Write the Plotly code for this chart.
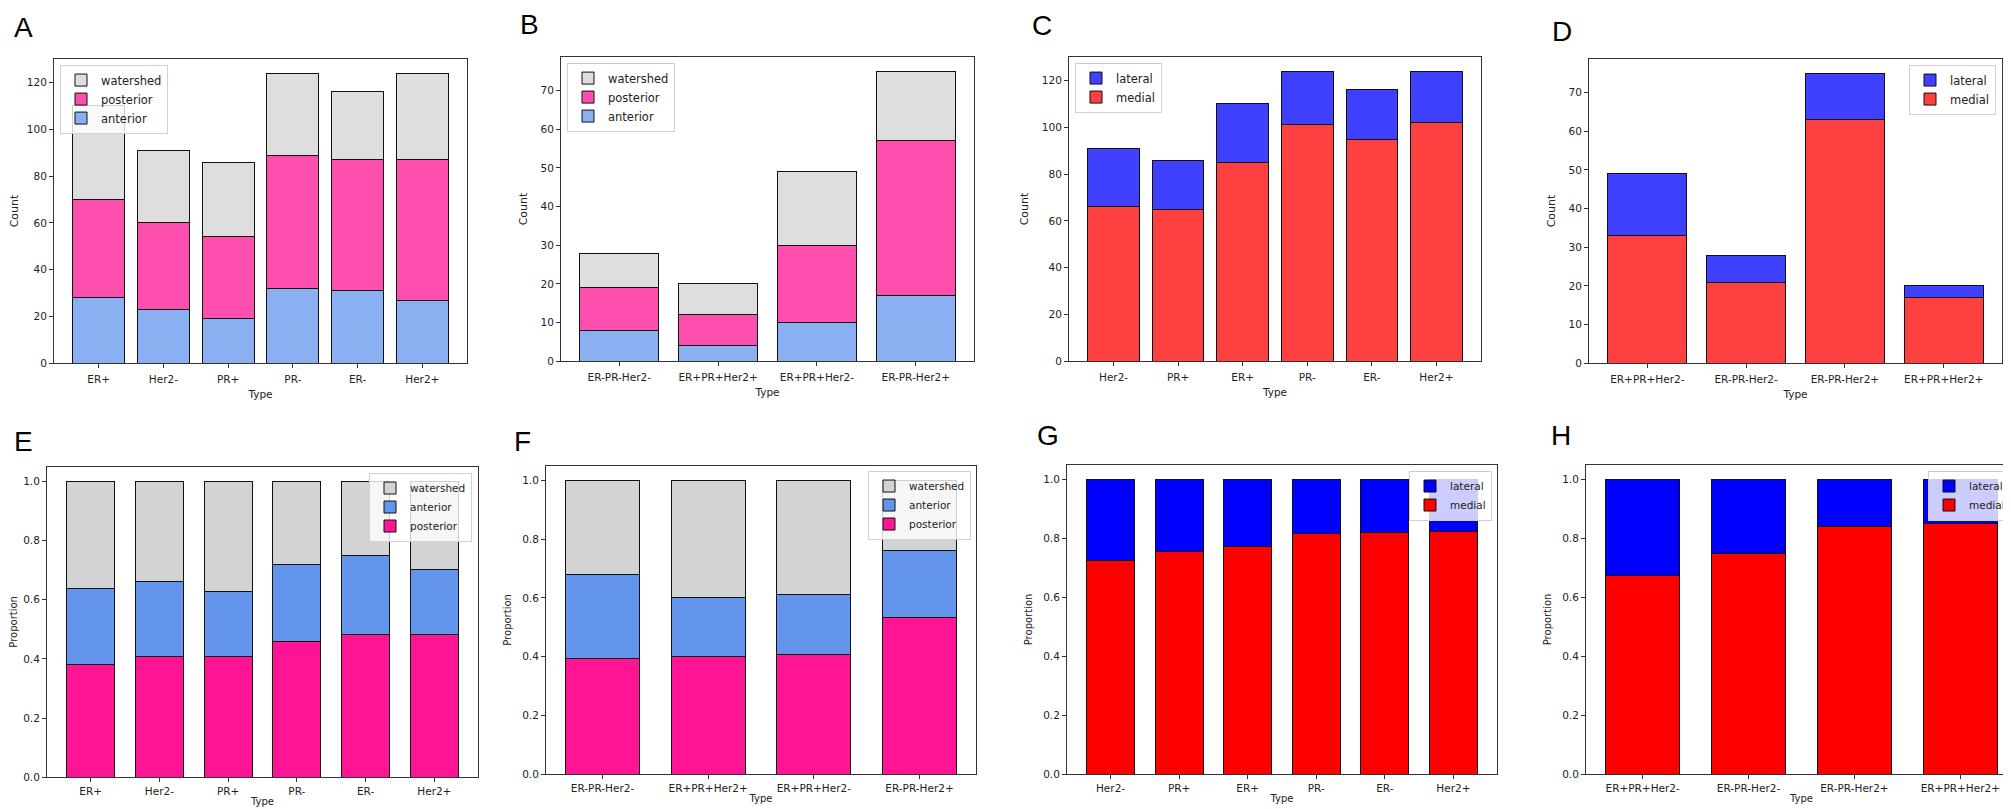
import plotly.graph_objects as go

W, H = 2011, 809

# ---------------- data ----------------
cats_A = ["ER+", "Her2-", "PR+", "PR-", "ER-", "Her2+"]
A_anterior = [28, 23, 19, 32, 31, 27]
A_posterior = [42, 37, 35, 57, 56, 60]
A_watershed = [40, 31, 32, 35, 29, 37]

cats_B = ["ER-PR-Her2-", "ER+PR+Her2+", "ER+PR+Her2-", "ER-PR-Her2+"]
B_anterior = [8, 4, 10, 17]
B_posterior = [11, 8, 20, 40]
B_watershed = [9, 8, 19, 18]

cats_C = ["Her2-", "PR+", "ER+", "PR-", "ER-", "Her2+"]
C_medial = [66, 65, 85, 101, 95, 102]
C_lateral = [25, 21, 25, 23, 21, 22]

cats_D = ["ER+PR+Her2-", "ER-PR-Her2-", "ER-PR-Her2+", "ER+PR+Her2+"]
D_medial = [33, 21, 63, 17]
D_lateral = [16, 7, 12, 3]

cats_E = ["ER+", "Her2-", "PR+", "PR-", "ER-", "Her2+"]
E_posterior = [0.382, 0.407, 0.407, 0.460, 0.483, 0.484]
E_anterior = [0.255, 0.253, 0.221, 0.258, 0.267, 0.218]
E_watershed = [0.363, 0.340, 0.372, 0.282, 0.250, 0.298]

cats_F = ["ER-PR-Her2-", "ER+PR+Her2+", "ER+PR+Her2-", "ER-PR-Her2+"]
F_posterior = [0.393, 0.400, 0.408, 0.533]
F_anterior = [0.286, 0.200, 0.204, 0.227]
F_watershed = [0.321, 0.400, 0.388, 0.240]

cats_G = ["Her2-", "PR+", "ER+", "PR-", "ER-", "Her2+"]
G_medial = [0.725, 0.756, 0.773, 0.815, 0.819, 0.823]
G_lateral = [0.275, 0.244, 0.227, 0.185, 0.181, 0.177]

cats_H = ["ER+PR+Her2-", "ER-PR-Her2-", "ER-PR-Her2+", "ER+PR+Her2+"]
H_medial = [0.673, 0.750, 0.840, 0.850]
H_lateral = [0.327, 0.250, 0.160, 0.150]

# ---------------- styles ----------------
C_WS_L, C_POS_L, C_ANT_L = "#dedede", "#ff4fae", "#8bb0f2"
C_RED_L, C_BLUE_L = "#ff4040", "#4040ff"
C_WS, C_POS, C_ANT = "#d3d3d3", "#ff1493", "#6495ed"
C_RED, C_BLUE = "#ff0000", "#0000ff"

FONT = "DejaVu Sans"
TXT = "#222222"
LINE = "#333333"

panels = [
    dict(letter="A", cats=cats_A,
         series=[("anterior", A_anterior, C_ANT_L), ("posterior", A_posterior, C_POS_L), ("watershed", A_watershed, C_WS_L)],
         box=(46, 459, 51, 358), yr=[0, 130.2], dtick=20, fmt="d", ytitle="Count", w=0.8,
         leg=(52, 57, "left"), lp=(15, 18.5)),
    dict(letter="B", cats=cats_B,
         series=[("anterior", B_anterior, C_ANT_L), ("posterior", B_posterior, C_POS_L), ("watershed", B_watershed, C_WS_L)],
         box=(553, 966, 49, 356), yr=[0, 78.75], dtick=10, fmt="d", ytitle="Count", w=0.8,
         leg=(559, 55, "left"), lp=(521, 16)),
    dict(letter="C", cats=cats_C,
         series=[("medial", C_medial, C_RED_L), ("lateral", C_lateral, C_BLUE_L)],
         box=(1061, 1473, 49, 356), yr=[0, 130.2], dtick=20, fmt="d", ytitle="Count", w=0.8,
         leg=(1067, 55, "left"), lp=(1034, 17)),
    dict(letter="D", cats=cats_D,
         series=[("medial", D_medial, C_RED_L), ("lateral", D_lateral, C_BLUE_L)],
         box=(1581, 1994, 51, 358), yr=[0, 78.75], dtick=10, fmt="d", ytitle="Count", w=0.8,
         leg=(1988, 57, "right"), lp=(1554, 23)),
    dict(letter="E", cats=cats_E,
         series=[("posterior", E_posterior, C_POS), ("anterior", E_anterior, C_ANT), ("watershed", E_watershed, C_WS)],
         box=(39, 470, 462, 775), yr=[0, 1.05], dtick=0.2, fmt=".1f", ytitle="Proportion", w=0.7,
         leg=(464, 468, "right"), lp=(15, 435.5)),
    dict(letter="F", cats=cats_F,
         series=[("posterior", F_posterior, C_POS), ("anterior", F_anterior, C_ANT), ("watershed", F_watershed, C_WS)],
         box=(538, 968, 461, 772), yr=[0, 1.05], dtick=0.2, fmt=".1f", ytitle="Proportion", w=0.7,
         leg=(963, 466, "right"), lp=(514, 435.5)),
    dict(letter="G", cats=cats_G,
         series=[("medial", G_medial, C_RED), ("lateral", G_lateral, C_BLUE)],
         box=(1059, 1489, 460, 772), yr=[0, 1.05], dtick=0.2, fmt=".1f", ytitle="Proportion", w=0.7,
         leg=(1484, 466, "right"), lp=(1040, 429.5)),
    dict(letter="H", cats=cats_H,
         series=[("medial", H_medial, C_RED), ("lateral", H_lateral, C_BLUE)],
         box=(1578, 2009, 460, 772), yr=[0, 1.05], dtick=0.2, fmt=".1f", ytitle="Proportion", w=0.7,
         leg=(2003, 466, "right"), lp=(1553, 430)),
]

fig = go.Figure()
layout = dict(
    width=W, height=H, margin=dict(l=0, r=0, t=0, b=0),
    paper_bgcolor="white", plot_bgcolor="white", barmode="stack",
    font=dict(family=FONT, color=TXT, size=11),
    annotations=[],
)

for i, p in enumerate(panels, start=1):
    sfx = "" if i == 1 else str(i)
    xa, ya = "x" + sfx, "y" + sfx
    lg = "legend" + sfx
    n = len(p["cats"])
    w = p["w"]
    span = (n - 1) + w
    lo = -w / 2 - 0.05 * span
    hi = (n - 1) + w / 2 + 0.05 * span
    for name, vals, col in p["series"]:
        fig.add_trace(go.Bar(
            x=p["cats"], y=vals, name=name, width=w,
            marker=dict(color=col, line=dict(color="#111111", width=1)),
            xaxis=xa, yaxis=ya, legend=lg, showlegend=True,
        ))
    x0, x1, y0, y1 = p["box"]
    axis_common = dict(
        showline=True, mirror=True, linecolor=LINE, linewidth=1,
        ticks="outside", ticklen=4, tickwidth=1, tickcolor=LINE,
        tickfont=dict(family=FONT, size=10.5, color=TXT),
        showgrid=False, zeroline=False,
    )
    top = p["letter"] in "ABCD"
    layout["xaxis" + sfx] = dict(
        axis_common, domain=[x0 / W, x1 / W], anchor=ya, type="category",
        range=[lo, hi], ticklabelstandoff=2 if top else 0,
        title=dict(text="Type", font=dict(family=FONT, size=10.5 if top else 10, color=TXT),
                   standoff=6 if top else 2),
    )
    layout["yaxis" + sfx] = dict(
        axis_common, domain=[1 - y1 / H, 1 - y0 / H], anchor=xa,
        range=p["yr"], dtick=p["dtick"], tick0=0, tickformat=p["fmt"],
        title=dict(text=p["ytitle"], font=dict(family=FONT, size=11 if top else 10, color=TXT),
                   standoff=10 if top else 8),
    )
    lx, ly, lxa = p["leg"]
    layout[lg] = dict(
        x=lx / W, y=1 - ly / H, xanchor=lxa, yanchor="top",
        xref="paper", yref="paper",
        traceorder="reversed",
        bgcolor="rgba(255,255,255,0.8)", bordercolor="#d0d0d0", borderwidth=1,
        font=dict(family=FONT, size=11.5 if top else 10.5, color=TXT),
        itemwidth=30,
    )
    ax_, ay_ = p["lp"]
    layout["annotations"].append(dict(
        text=p["letter"], x=ax_ / W, y=1 - (ay_ + 1) / H, xref="paper", yref="paper",
        xanchor="center", yanchor="middle", showarrow=False,
        font=dict(family="Liberation Sans", size=28, color="black"),
    ))

fig.update_layout(**layout)
fig.write_html("out.html")
